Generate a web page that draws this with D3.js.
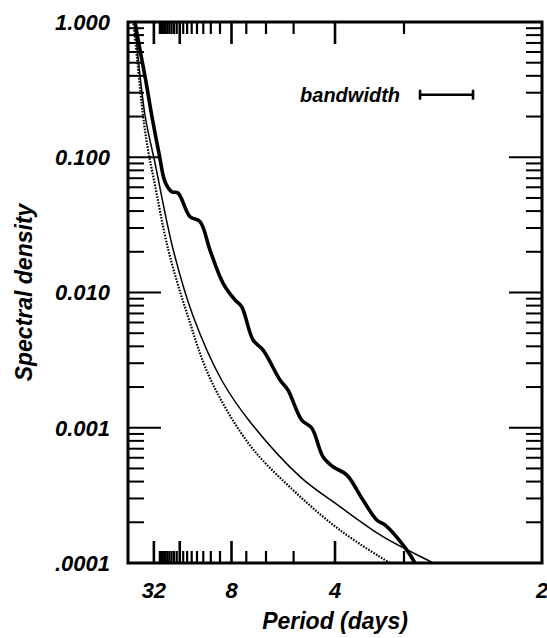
<!DOCTYPE html>
<html><head><meta charset="utf-8">
<script src="https://cdn.jsdelivr.net/npm/d3@7/dist/d3.min.js"></script>
<style>
body{margin:0;background:#fff}
text{font-family:"Liberation Sans",Arial,sans-serif;font-weight:bold;font-style:italic;fill:#000}
</style>
</head><body>
<svg id="c" width="547" height="638"></svg>
<script>
// x axis: frequency (cycles/day), labelled by period (days)
const periodLabels = [32, 8, 4, 2];
const majorPeriodTicks = [32, 16, 8, 4];
const minorPeriodTicks = [26, 25, 24, 23, 22, 21, 20, 19, 18, 17, 15, 14, 13, 12, 11, 10, 9, 7, 6, 5, 3];
// y axis
const yTickValues = [1, 0.1, 0.01, 0.001, 0.0001];
const yTickLabels = ["1.000", "0.100", "0.010", "0.001", ".0001"];

// observed spectrum (thick line)
const obsFreq = [0.004, 0.0085, 0.0217, 0.0286, 0.0378, 0.0447, 0.0528, 0.0604, 0.0749, 0.087, 0.099, 0.1147, 0.1292, 0.1373, 0.151, 0.163, 0.1836, 0.1932, 0.2098, 0.2219, 0.2355, 0.2476, 0.2641, 0.2838, 0.3004, 0.3104, 0.3366, 0.3466, 0.36];
const obsDensity = [1.6, 1.0, 0.362, 0.205, 0.104, 0.0659, 0.0556, 0.0544, 0.0363, 0.0334, 0.0206, 0.01175, 0.00881, 0.00785, 0.00446, 0.00376, 0.002255, 0.0019, 0.00114, 0.000995, 0.000611, 0.000515, 0.000448, 0.000292, 0.000208, 0.000191, 0.000125, 0.0001, 0.00007];

// fitted background spectrum (thin solid)
const fitFreq = [0.003, 0.0076, 0.0205, 0.0326, 0.0547, 0.0789, 0.1132, 0.1473, 0.2077, 0.256, 0.308, 0.3684, 0.39];
const fitDensity = [1.6, 1.0, 0.2053, 0.0907, 0.0206, 0.00662, 0.002245, 0.001108, 0.000435, 0.000261, 0.0001565, 0.0001, 0.000085];

// reference spectrum (dotted)
const refFreq = [0.002, 0.0064, 0.0181, 0.0242, 0.0314, 0.0487, 0.0725, 0.1002, 0.1473, 0.1996, 0.256, 0.3164, 0.33];
const refDensity = [1.6, 1.0, 0.2053, 0.1131, 0.0679, 0.0206, 0.00662, 0.002245, 0.000742, 0.000345, 0.000175, 0.0001, 0.00009];

// bandwidth marker
const bandwidthLabel = "bandwidth";
const bandwidthFreq = [0.3527, 0.4167];
const bandwidthLevel = 0.29;

const W = 547, H = 638;
const m = {left: 128, right: 5, top: 22, bottom: 75};
const svg = d3.select("#c");
const x = d3.scaleLinear().domain([0, 0.5]).range([m.left, W - m.right]);
const y = d3.scaleLog().domain([0.0001, 1]).range([H - m.bottom, m.top]);
const x0 = x.range()[0], x1 = x.range()[1], y0 = y.range()[1], y1 = y.range()[0];

svg.append("defs").append("clipPath").attr("id", "clip")
  .append("rect").attr("x", x0).attr("y", y0).attr("width", x1 - x0).attr("height", y1 - y0);

// y ticks (both sides, inward)
const minorY = [];
for (let d = -4; d < 0; d++) for (let k = 2; k <= 9; k++) minorY.push(k * Math.pow(10, d));
const g = svg.append("g");
function yTicks(vals, len, w) {
  vals.forEach(v => {
    const yy = y(v);
    g.append("line").attr("x1", x0).attr("x2", x0 + len).attr("y1", yy).attr("y2", yy).attr("stroke", "#000").attr("stroke-width", w);
    g.append("line").attr("x1", x1).attr("x2", x1 - len).attr("y1", yy).attr("y2", yy).attr("stroke", "#000").attr("stroke-width", w);
  });
}
yTicks(minorY, 16, 2);
yTicks([0.1, 0.01, 0.001], 33, 2);

// x ticks (top and bottom, inward)
function xTicks(periods, len, w) {
  periods.forEach(p => {
    const xx = x(1 / p);
    g.append("line").attr("x1", xx).attr("x2", xx).attr("y1", y0).attr("y2", y0 + len).attr("stroke", "#000").attr("stroke-width", w);
    g.append("line").attr("x1", xx).attr("x2", xx).attr("y1", y1).attr("y2", y1 - len).attr("stroke", "#000").attr("stroke-width", w);
  });
}
xTicks(minorPeriodTicks, 12, 2.2);
xTicks(majorPeriodTicks, 22, 2.6);

// curves
const line = d3.line().x(d => x(d[0])).y(d => y(d[1])).curve(d3.curveCatmullRom.alpha(0.5));
const curves = svg.append("g").attr("clip-path", "url(#clip)");
curves.append("path").datum(d3.zip(refFreq, refDensity)).attr("d", line)
  .attr("fill", "none").attr("stroke", "#000").attr("stroke-width", 2.2).attr("stroke-dasharray", "1.6,1.4");
curves.append("path").datum(d3.zip(fitFreq, fitDensity)).attr("d", line)
  .attr("fill", "none").attr("stroke", "#000").attr("stroke-width", 1.5);
curves.append("path").datum(d3.zip(obsFreq, obsDensity)).attr("d", line)
  .attr("fill", "none").attr("stroke", "#000").attr("stroke-width", 3.6).attr("stroke-linejoin", "round");

// frame
svg.append("rect").attr("x", x0).attr("y", y0).attr("width", x1 - x0).attr("height", y1 - y0)
  .attr("fill", "none").attr("stroke", "#000").attr("stroke-width", 3);

// y labels
yTickValues.forEach((v, i) => {
  svg.append("text").attr("x", 110).attr("y", y(v)).attr("dy", "0.36em").attr("text-anchor", "end")
    .attr("font-size", 22).text(yTickLabels[i]);
});
// x labels
periodLabels.forEach(p => {
  svg.append("text").attr("x", x(1 / p)).attr("y", 598).attr("text-anchor", "middle")
    .attr("font-size", 22).text(p);
});
svg.append("text").attr("x", (x0 + x1) / 2).attr("y", 629).attr("text-anchor", "middle")
  .attr("font-size", 23).text("Period (days)");
svg.append("text").attr("transform", `translate(32,${(y0 + y1) / 2}) rotate(-90)`).attr("text-anchor", "middle")
  .attr("font-size", 23).text("Spectral density");

// bandwidth marker
const by = y(bandwidthLevel);
svg.append("text").attr("x", x(bandwidthFreq[0]) - 20).attr("y", by).attr("dy", "0.36em").attr("text-anchor", "end")
  .attr("font-size", 20).text(bandwidthLabel);
const bw = svg.append("g").attr("stroke", "#000");
bw.append("line").attr("x1", x(bandwidthFreq[0])).attr("x2", x(bandwidthFreq[1])).attr("y1", by).attr("y2", by).attr("stroke-width", 2.6);
bandwidthFreq.forEach(f => bw.append("line").attr("x1", x(f)).attr("x2", x(f)).attr("y1", by - 5).attr("y2", by + 5).attr("stroke-width", 2.6));
</script>
</body></html>
